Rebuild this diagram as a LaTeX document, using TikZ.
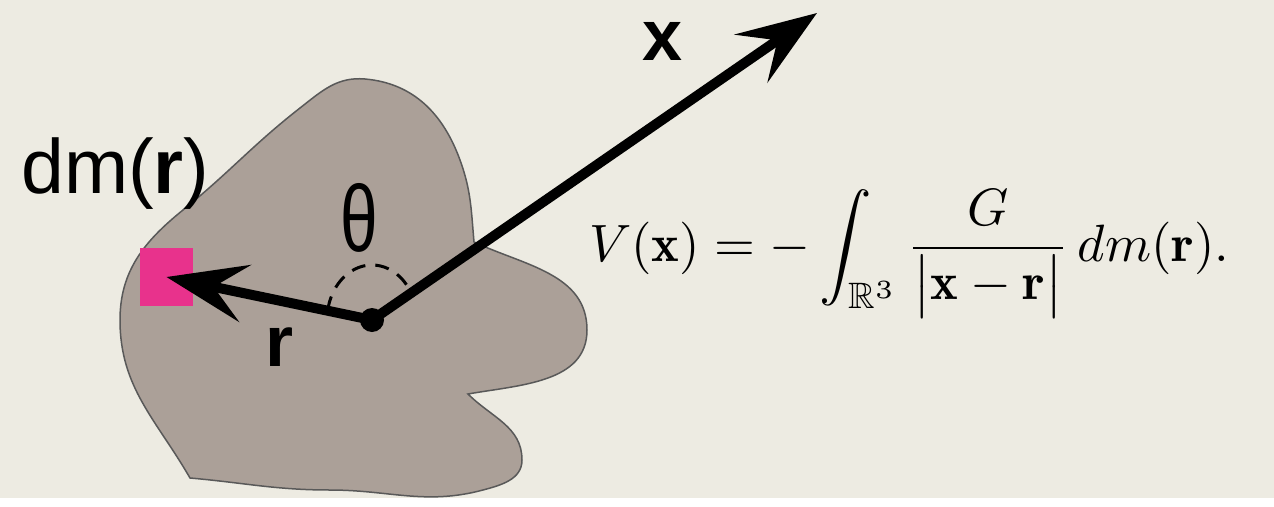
\documentclass[tikz,border=0pt]{standalone}
\usepackage{amsmath,amssymb,graphicx}
\usepackage{fontspec}
\newfontfamily\labelfont{Liberation Sans}
\usetikzlibrary{arrows.meta}
\definecolor{paper}{RGB}{237,235,226}
\definecolor{rock}{RGB}{171,160,152}
\definecolor{mass}{RGB}{232,50,140}
\begin{document}
\begin{tikzpicture}[x=1pt, y=1pt,
    lbl/.style={inner sep=0, font=\labelfont\fontsize{72}{80}\selectfont},
    vec/.style={line width=10pt, -{Stealth[length=80pt, width=58pt, inset=32pt]}},
    angmark/.style={line width=3pt, dash pattern=on 14pt off 10pt}
  ]
  % Background
  \fill[paper] (0,0) rectangle (1274,-498);

  % Body
  \draw[fill=rock, draw=black!65, line width=1.5pt]
    (365,-79) to[out=-5,in=110] (460,-160) to[out=-70,in=95] (474,-242)
    to[out=-25,in=90] (587,-330) to[out=-90,in=10] (468,-394)
    to[out=-45,in=90] (522,-460) to[out=-90,in=15] (483,-490)
    to[out=195,in=0] (330,-490) to[out=180,in=-5] (190,-478)
    to[out=120,in=-90] (120,-320) to[out=90,in=-141] (183,-210)
    to[out=39,in=-142] (300,-108) to[out=38,in=175] (365,-79) -- cycle;

  % Nodes
  \node[fill=mass, minimum width=53pt, minimum height=58pt, inner sep=0] (dm) at (166.5,-277) {};
  \node[circle, fill=black, minimum size=24pt, inner sep=0] (o) at (372,-320) {};
  \coordinate (xtip) at (817,-13);

  % Angle
  \draw[angmark] (o.center) ++(40:45pt and 55pt)
    arc[start angle=40, end angle=166, x radius=45pt, y radius=55pt];

  % Arrows
  \draw[vec] (o.center) -- (dm.center);
  \draw[vec] (o.center) -- (xtip);

  % Labels
  \node[lbl] (xlbl) at (663,-41) {\textbf{x}};
  \node[lbl] (rlbl) at (280,-347) {\textbf{r}};
  \node[lbl, anchor=base west, font=\labelfont\fontsize{77}{84}\selectfont] (dmlbl) at (21,-193) {dm(\textbf{r})};
  \node[lbl, font=\labelfont\fontsize{94}{100}\selectfont] (th) at (359,-218) {\scalebox{0.72}[1]{θ}};
  \node[inner sep=0] (pot) at (909,-254)
    {\scalebox{5.25}{$\displaystyle V(\mathbf{x}) = -\int_{\mathbb{R}^3} \frac{G}{\big|\mathbf{x}-\mathbf{r}\big|}\, dm(\mathbf{r}).$}};
\end{tikzpicture}
\end{document}
